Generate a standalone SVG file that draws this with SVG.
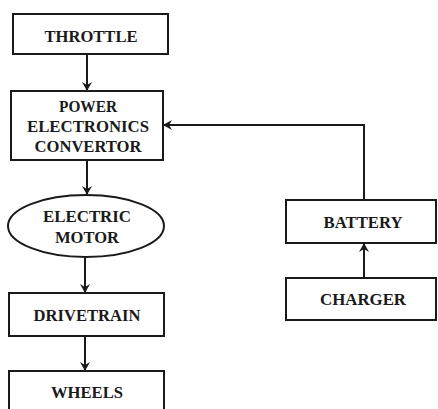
<svg xmlns="http://www.w3.org/2000/svg" width="438" height="409" viewBox="0 0 438 409">
<style>
.box{fill:#fff;stroke:#1a1a1a;stroke-width:2}
.t{font-family:"Liberation Serif","Times New Roman","DejaVu Serif",serif;font-weight:bold;font-size:16px;fill:#1a1a1a;text-anchor:middle}
.c{fill:none;stroke:#1a1a1a;stroke-width:2}
</style>
<defs>
<marker id="ah" markerWidth="10" markerHeight="10" refX="8" refY="5" orient="auto" markerUnits="userSpaceOnUse">
<path d="M0,0 L9,5 L0,10 L3,5 Z" fill="#1a1a1a"/>
</marker>
</defs>
<rect width="438" height="409" fill="#fff"/>
<g id="connectors">
<line class="c" x1="87" y1="54" x2="87" y2="90" marker-end="url(#ah)"/>
<line class="c" x1="87" y1="160" x2="87" y2="194" marker-end="url(#ah)"/>
<line class="c" x1="85" y1="257" x2="85" y2="292" marker-end="url(#ah)"/>
<line class="c" x1="85" y1="336" x2="85" y2="370" marker-end="url(#ah)"/>
<polyline class="c" points="364,200 364,125 164,125" marker-end="url(#ah)"/>
<line class="c" x1="364" y1="278" x2="364" y2="244" marker-end="url(#ah)"/>
</g>
<g id="throttle">
<rect class="box" x="13" y="14" width="155" height="40"/>
<text class="t" x="91" y="42" textLength="93" lengthAdjust="spacingAndGlyphs">THROTTLE</text>
</g>
<g id="converter">
<rect class="box" x="11" y="91" width="152" height="69"/>
<text class="t" x="88" y="112" textLength="58" lengthAdjust="spacingAndGlyphs">POWER</text>
<text class="t" x="88" y="132" textLength="122" lengthAdjust="spacingAndGlyphs">ELECTRONICS</text>
<text class="t" x="88" y="152" textLength="107" lengthAdjust="spacingAndGlyphs">CONVERTOR</text>
</g>
<g id="motor">
<ellipse class="box" cx="86" cy="226" rx="78" ry="31"/>
<text class="t" x="87" y="222" textLength="88" lengthAdjust="spacingAndGlyphs">ELECTRIC</text>
<text class="t" x="87" y="243" textLength="64" lengthAdjust="spacingAndGlyphs">MOTOR</text>
</g>
<g id="drivetrain">
<rect class="box" x="9" y="293" width="155" height="43"/>
<text class="t" x="87" y="321" textLength="107" lengthAdjust="spacingAndGlyphs">DRIVETRAIN</text>
</g>
<g id="wheels">
<rect class="box" x="9" y="371" width="155" height="50"/>
<text class="t" x="87" y="398" textLength="72" lengthAdjust="spacingAndGlyphs">WHEELS</text>
</g>
<g id="battery">
<rect class="box" x="286" y="200" width="150" height="43"/>
<text class="t" x="363" y="228" textLength="79" lengthAdjust="spacingAndGlyphs">BATTERY</text>
</g>
<g id="charger">
<rect class="box" x="286" y="278" width="150" height="42"/>
<text class="t" x="363" y="305" textLength="86" lengthAdjust="spacingAndGlyphs">CHARGER</text>
</g>
</svg>
